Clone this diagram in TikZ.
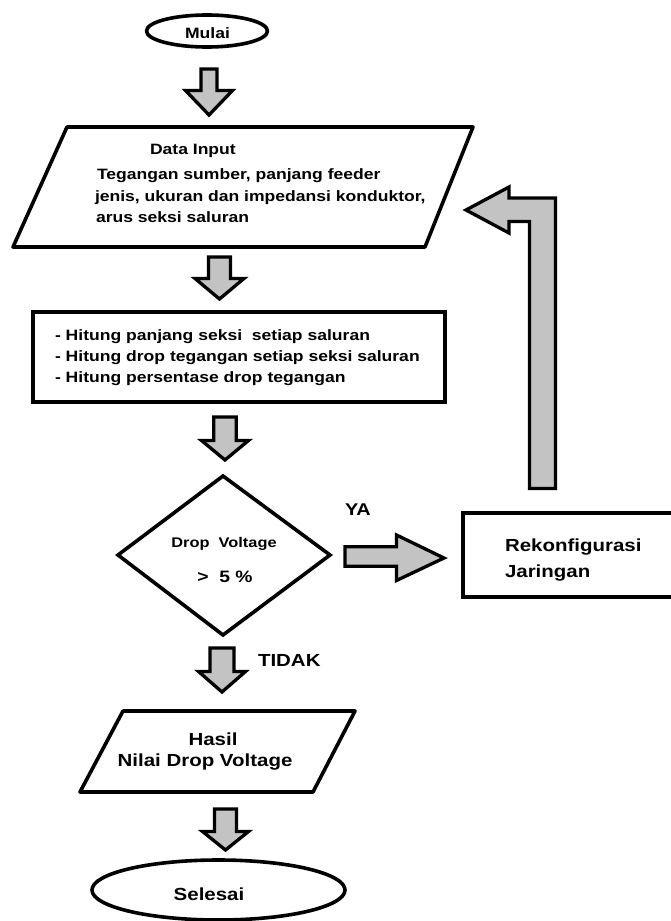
\documentclass[tikz,border=0pt]{standalone}
\usepackage{fontspec}
\setmainfont{Liberation Sans}[FakeStretch=1.17]
\definecolor{arrowgray}{HTML}{C3C3C3}
\tikzset{
  shp/.style={draw=black, line width=3.6pt, line join=round, fill=white},
  blk/.style={draw=black, line width=3.3pt, line join=miter, miter limit=4, fill=arrowgray},
  txt/.style={inner sep=0pt, outer sep=0pt, font=\bfseries\fontsize{15}{18}\selectfont},
  txtb/.style={inner sep=0pt, outer sep=0pt, font=\bfseries\fontsize{17.5}{21}\selectfont},
  txts/.style={inner sep=0pt, outer sep=0pt, font=\bfseries\fontsize{14}{17}\selectfont},
}
\newcommand{\blkdown}[6]{%
  \draw[blk] ({#1-#5},#2) -- ({#1+#5},#2) -- ({#1+#5},#3) -- ({#1+#6},#3) -- (#1,#4)
    -- ({#1-#6},#3) -- ({#1-#5},#3) -- cycle;}
\begin{document}
\begin{tikzpicture}[x=1pt,y=-1pt]
\useasboundingbox (0,0) rectangle (670,921);

% Start
\draw[shp] (207,31) ellipse[x radius=60.5, y radius=16];
\node[txt, anchor=base] (mulai) at (207.5,38) {Mulai};

\blkdown{209}{69}{90.5}{115}{8}{23.5}

% Data input
\draw[shp] (67,127) -- (473,127) -- (425,247) -- (13,247) -- cycle;
\node[txt, anchor=base west] (dihead) at (150,154.3) {Data Input};
\node[txt, anchor=base west] (di1) at (97,179.3) {Tegangan sumber, panjang feeder};
\node[txt, anchor=base west] (di2) at (95,201.5) {jenis, ukuran dan impedansi konduktor,};
\node[txt, anchor=base west] (di3) at (96,222.5) {arus seksi saluran};

\blkdown{219.5}{257}{278.5}{299}{11}{24.5}

% Process
\draw[shp, line join=miter] (33,312) rectangle (445,402);
\node[txt, anchor=base west] (p1) at (55,340) {- Hitung panjang seksi\ \ setiap saluran};
\node[txt, anchor=base west] (p2) at (55,361.5) {- Hitung drop tegangan setiap seksi saluran};
\node[txt, anchor=base west] (p3) at (55,382.7) {- Hitung persentase drop tegangan};

\blkdown{225}{417}{440.5}{460}{11.3}{23.5}

% Decision
\draw[shp, line join=miter] (223,476) -- (330,555) -- (223,635) -- (118,555) -- cycle;
\node[txts, anchor=base] (d1) at (224,547) {Drop\ \ Voltage};
\node[txt, font=\bfseries\fontsize{16.5}{20}\selectfont, anchor=base] (d2) at (225,582) {>\ \ 5 \%};

% YA branch
\node[txtb, font=\bfseries\fontsize{17}{20}\selectfont, anchor=base west] (ya) at (345,515) {YA};
\draw[blk] (345,546.7) -- (396.5,546.7) -- (396.5,535) -- (444,558) -- (396.5,580.5)
  -- (396.5,566.3) -- (345,566.3) -- cycle;
\draw[shp, line join=miter] (463,513) rectangle (676,597);
\node[txtb, anchor=base west] (rk1) at (505,551) {Rekonfigurasi};
\node[txtb, anchor=base west] (rk2) at (505,577) {Jaringan};

% Return arrow
\draw[blk] (529.5,488.5) -- (555.5,488.5) -- (555.5,198) -- (509,198) -- (509,187)
  -- (466,210) -- (509,233) -- (509,221.5) -- (529.5,221.5) -- cycle;

% TIDAK branch
\blkdown{222}{648}{671.5}{692}{12}{23.5}
\node[txtb, anchor=base west] (tidak) at (258,666.7) {TIDAK};

% Output
\draw[shp] (123,711) -- (355,711) -- (313,792) -- (80,792) -- cycle;
\node[txtb, anchor=base] (h1) at (213,745) {Hasil};
\node[txtb, anchor=base] (h2) at (205,766.7) {Nilai Drop Voltage};

\blkdown{225.5}{809}{831.5}{850}{11}{23}

% End
\draw[shp] (218.5,890) ellipse[x radius=126.5, y radius=30];
\node[txtb, anchor=base] (selesai) at (209,900) {Selesai};
\end{tikzpicture}
\end{document}
